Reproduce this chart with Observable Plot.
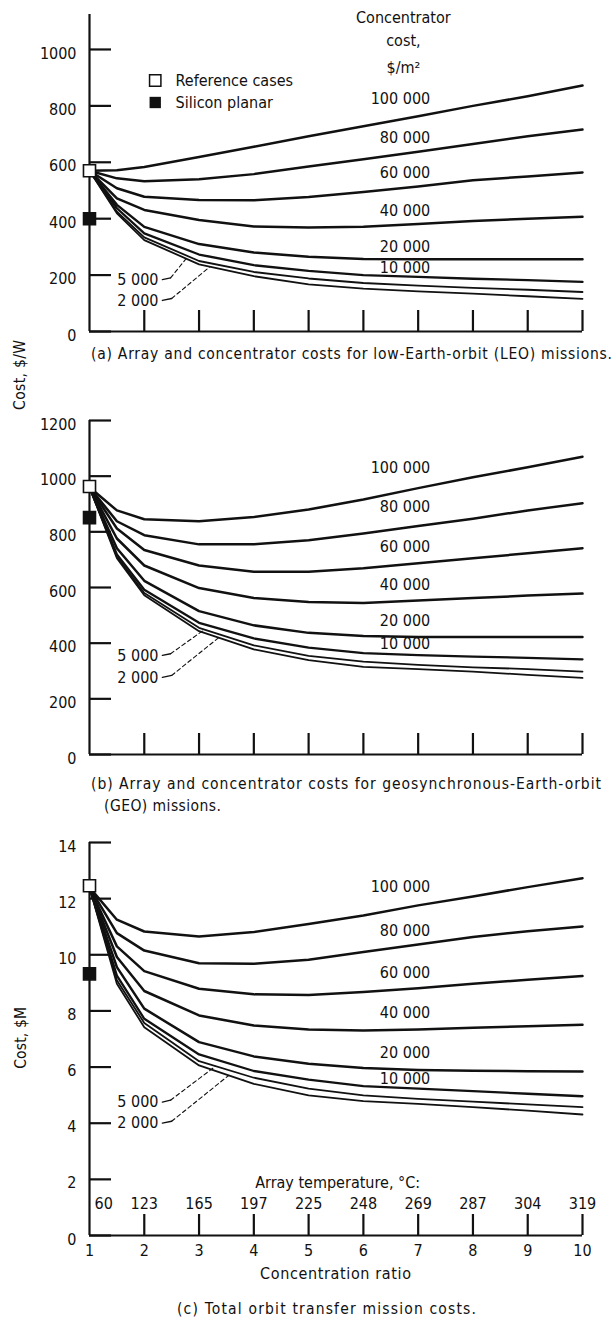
<!DOCTYPE html>
<html><head><meta charset="utf-8">
<script src="https://cdn.jsdelivr.net/npm/d3@7"></script>
<script src="https://cdn.jsdelivr.net/npm/@observablehq/plot@0.6"></script>
<style>
body{margin:0;background:#fff;}
#root{position:relative;width:616px;height:1320px;overflow:hidden;background:#fff;color:#111;}
.p{position:absolute;left:0;}
.t{position:absolute;white-space:nowrap;line-height:1;}
</style></head><body><div id="root"></div>
<script>
// Concentration ratio (x) and concentrator cost series
const ratios = [1, 1.5, 2, 3, 4, 5, 6, 7, 8, 9, 10];
const seriesNames = ["100 000", "80 000", "60 000", "40 000", "20 000", "10 000", "5 000", "2 000"];
const xTickValues = [1, 2, 3, 4, 5, 6, 7, 8, 9, 10];
const arrayTemps = [60, 123, 165, 197, 225, 248, 269, 287, 304, 319];

// (a) LEO, $/W
const leo100000 = [570, 572, 583, 619, 655, 692, 728, 763, 800, 834, 872];
const leo80000  = [570, 543, 533, 540, 558, 585, 611, 637, 665, 692, 716];
const leo60000  = [570, 508, 478, 466, 465, 477, 495, 514, 536, 550, 564];
const leo40000  = [570, 472, 431, 395, 372, 369, 371, 381, 392, 400, 407];
const leo20000  = [570, 449, 371, 310, 280, 265, 257, 256, 256, 256, 256];
const leo10000  = [570, 437, 348, 273, 235, 215, 200, 194, 187, 182, 176];
const leo5000   = [570, 425, 334, 250, 211, 188, 172, 163, 155, 148, 140];
const leo2000   = [570, 419, 324, 238, 196, 167, 152, 142, 134, 125, 116];
const leoRef = 570, leoSilicon = 400;
const leoTicks = [0, 200, 400, 600, 800, 1000];

// (b) GEO, $/W
const geo100000 = [960, 877, 845, 838, 853, 880, 916, 957, 996, 1032, 1070];
const geo80000  = [960, 838, 788, 755, 755, 770, 794, 821, 847, 877, 903];
const geo60000  = [960, 812, 735, 679, 657, 657, 669, 687, 705, 723, 741];
const geo40000  = [960, 776, 679, 598, 562, 548, 544, 553, 562, 571, 578];
const geo20000  = [960, 741, 624, 515, 464, 437, 426, 422, 422, 422, 422];
const geo10000  = [960, 719, 592, 473, 417, 384, 364, 357, 352, 347, 342];
const geo5000   = [960, 711, 580, 455, 392, 354, 334, 322, 313, 307, 298];
const geo2000   = [960, 705, 572, 443, 378, 339, 315, 307, 298, 286, 275];
const geoRef = 963, geoSilicon = 851;
const geoTicks = [0, 200, 400, 600, 800, 1000, 1200];

// (c) Total orbit transfer mission cost, $M
const tot100000 = [12.4, 11.25, 10.83, 10.65, 10.81, 11.10, 11.40, 11.76, 12.08, 12.41, 12.73];
const tot80000  = [12.4, 10.77, 10.15, 9.70, 9.68, 9.82, 10.10, 10.37, 10.63, 10.84, 11.01];
const tot60000  = [12.4, 10.30, 9.42, 8.79, 8.59, 8.57, 8.67, 8.81, 8.97, 9.11, 9.24];
const tot40000  = [12.4, 9.92, 8.71, 7.84, 7.48, 7.34, 7.30, 7.34, 7.40, 7.45, 7.51];
const tot20000  = [12.4, 9.56, 8.08, 6.89, 6.38, 6.12, 5.97, 5.90, 5.87, 5.85, 5.84];
const tot10000  = [12.4, 9.26, 7.72, 6.45, 5.86, 5.55, 5.32, 5.23, 5.14, 5.05, 4.96];
const tot5000   = [12.4, 9.09, 7.57, 6.21, 5.62, 5.23, 4.99, 4.87, 4.77, 4.67, 4.57];
const tot2000   = [12.4, 8.97, 7.42, 6.06, 5.40, 4.99, 4.79, 4.69, 4.57, 4.45, 4.31];
const totRef = 12.46, totSilicon = 9.32;
const totTicks = [0, 2, 4, 6, 8, 10, 12, 14];

// annotation anchors (data units)
const labelX = 7.22;
const leoLabelY = [826, 688, 564, 426, 301, 227];
const geoLabelY = [1031, 888, 747, 611, 481, 399];
const totLabelY = [12.43, 10.86, 9.36, 7.93, 6.50, 5.57];

const root = document.getElementById("root");

// ---- pick a condensed font that is installed ----
function textWidth(family, stretch) {
  const s = document.createElement("span");
  s.textContent = "Concentrator cost 1000 missions";
  s.style.cssText = "position:absolute;visibility:hidden;font-size:20px;white-space:nowrap;";
  s.style.fontFamily = family; s.style.fontStretch = stretch;
  document.body.appendChild(s);
  const w = s.getBoundingClientRect().width; s.remove(); return w;
}
let FONT, STRETCH, FS;
if (Math.abs(textWidth("'Liberation Sans Narrow', monospace", "normal") - textWidth("monospace", "normal")) > 1) {
  FONT = "'Liberation Sans Narrow', sans-serif"; STRETCH = "normal"; FS = 17.5;
} else if (textWidth("'DejaVu Sans'", "condensed") < 0.95 * textWidth("'DejaVu Sans'", "normal")) {
  FONT = "'DejaVu Sans', sans-serif"; STRETCH = "condensed"; FS = 16;
} else {
  FONT = "'Liberation Sans', Arial, sans-serif"; STRETCH = "normal"; FS = 16;
}
root.style.fontFamily = FONT; root.style.fontStretch = STRETCH;

const widths = [2.5, 2.5, 2.5, 2.5, 2.5, 2.3, 1.8, 1.8];

function tidy(series) {
  return series.flatMap((vals, i) => vals.map((v, j) => ({x: ratios[j], y: v, s: seriesNames[i], w: widths[i]})));
}

function leader(label, lx, ly, solidEnd, end) {
  return [
    Plot.text([label], {x: lx, y: ly, text: d => d, textAnchor: "end", fontSize: FS}),
    Plot.line([[lx + 0.07, ly], solidEnd], {strokeWidth: 1.3}),
    Plot.line([solidEnd, end], {strokeWidth: 1.1, strokeDasharray: "4,3"})
  ];
}

function panel({series, ymax, ticks, height, mt, mb, ref, silicon, labelY, lead5, lead2, xLabels, extra = []}) {
  const data = tidy(series);
  return Plot.plot({
    width: 616, height, marginLeft: 89, marginRight: 34, marginTop: mt, marginBottom: mb,
    style: {fontFamily: FONT, fontStretch: STRETCH, fontSize: FS + "px", color: "#111", background: "transparent", overflow: "visible"},
    x: {domain: [1, 10], axis: null},
    y: {domain: [0, ymax], axis: null},
    marks: [
      Plot.axisY({ticks, tickSize: -22, strokeWidth: 2.2, tickFormat: () => "", label: null}),
      Plot.axisY({ticks, tickSize: 0, tickPadding: 13, dy: 4, fontSize: FS, tickFormat: d => String(d), label: null}),
      Plot.axisX({ticks: xTickValues.slice(1), tickSize: -21, strokeWidth: 2.2, tickFormat: () => "", label: null}),
      xLabels ? Plot.axisX({ticks: xTickValues, tickSize: 0, tickPadding: 9, fontSize: FS, tickFormat: d => String(d), label: null}) : null,
      Plot.ruleX([1], {y1: 0, y2: ymax, strokeWidth: 2.2}),
      Plot.ruleY([0], {strokeWidth: 2.2}),
      Plot.line(data, {x: "x", y: "y", z: "s", strokeWidth: "w", strokeLinejoin: "round"}),
      Plot.text(seriesNames.slice(0, 6), {x: labelX, y: (d, i) => labelY[i], text: d => d, textAnchor: "end", fontSize: FS}),
      ...leader("5 000", lead5[0], lead5[1], lead5[2], lead5[3]),
      ...leader("2 000", lead2[0], lead2[1], lead2[2], lead2[3]),
      Plot.dot([ref], {x: 1, y: d => d, symbol: "square", r: 6.8, stroke: "#111", fill: "white", strokeWidth: 1.6}),
      Plot.dot([silicon], {x: 1, y: d => d, symbol: "square", r: 6.8, fill: "#111", stroke: "#111"}),
      ...extra
    ]
  });
}

function put(svg, top) {
  const d = document.createElement("div");
  d.className = "p"; d.style.top = top + "px";
  d.appendChild(svg); root.appendChild(d);
}

// (a)
put(panel({
  series: [leo100000, leo80000, leo60000, leo40000, leo20000, leo10000, leo5000, leo2000],
  ymax: 1124, ticks: leoTicks, height: 345, mt: 14, mb: 14,
  ref: leoRef, silicon: leoSilicon, labelY: leoLabelY,
  lead5: [2.26, 184, [2.48, 190], [2.8, 267]],
  lead2: [2.26, 110, [2.5, 117], [3.2, 230]],
  extra: [
    Plot.text(["Concentrator", "cost,", "$/m²"], {x: 6.73, y: (d, i) => [1113, 1032, 935][i], text: d => d, fontSize: FS}),
    Plot.dot([890], {x: 2.2, y: d => d, symbol: "square", r: 6.4, stroke: "#111", fill: "white", strokeWidth: 1.5}),
    Plot.dot([812], {x: 2.2, y: d => d, symbol: "square", r: 6.4, fill: "#111"}),
    Plot.text(["Reference cases", "Silicon planar"], {x: 2.57, y: (d, i) => [890, 812][i], text: d => d, textAnchor: "start", fontSize: FS})
  ]
}), 0);

// (b)
put(panel({
  series: [geo100000, geo80000, geo60000, geo40000, geo20000, geo10000, geo5000, geo2000],
  ymax: 1200, ticks: geoTicks, height: 370, mt: 20, mb: 16,
  ref: geoRef, silicon: geoSilicon, labelY: geoLabelY,
  lead5: [2.26, 356, [2.48, 362], [3.1, 449]],
  lead2: [2.26, 277, [2.5, 284], [3.36, 420]]
}), 400);

// (c)
put(panel({
  series: [tot100000, tot80000, tot60000, tot40000, tot20000, tot10000, tot5000, tot2000],
  ymax: 14, ticks: totTicks, height: 440, mt: 22, mb: 25,
  ref: totRef, silicon: totSilicon, labelY: totLabelY, xLabels: true,
  lead5: [2.26, 4.75, [2.48, 4.82], [3.3, 6.03]],
  lead2: [2.26, 4.0, [2.5, 4.07], [3.54, 5.70]],
  extra: [
    Plot.text(arrayTemps, {x: (d, i) => xTickValues[i] + (i === 0 ? 0.26 : 0), y: 1.14, text: d => String(d), fontSize: FS}),
    Plot.text(["Array temperature, °C:"], {x: 5.53, y: 1.89, text: d => d, fontSize: FS})
  ]
}), 820);

// HTML text: captions and axis titles
function addText(str, {left, right, cx, cy, size = FS - 0.5, rotate = false, len}) {
  const d = document.createElement("div");
  d.className = "t"; d.textContent = str; d.style.fontSize = size + "px";
  root.appendChild(d);
  const nat = d.getBoundingClientRect().width;
  const target = len ?? (right - left);
  if (target) d.style.letterSpacing = ((target - nat) / (str.length - 1)) + "px";
  const r = d.getBoundingClientRect();
  const w = r.width, h = r.height;
  if (rotate) {
    d.style.left = (cx - w / 2) + "px";
    d.style.top = (cy - h / 2) + "px";
    d.style.transform = "rotate(-90deg)";
  } else {
    d.style.left = (left ?? (cx - w / 2)) + "px";
    d.style.top = (cy - h / 2) + "px";
  }
}
addText("(a) Array and concentrator costs for low-Earth-orbit (LEO) missions.", {left: 91, right: 612, cy: 355});
addText("(b) Array and concentrator costs for geosynchronous-Earth-orbit", {left: 91, right: 601, cy: 785});
addText("(GEO) missions.", {left: 104, right: 221, cy: 807});
addText("(c) Total orbit transfer mission costs.", {left: 177, right: 476, cy: 1310});
addText("Concentration ratio", {left: 260, right: 411, cy: 1274, size: FS});
addText("Cost, $/W", {cx: 21, cy: 375, rotate: true, len: 70});
addText("Cost, $M", {cx: 22, cy: 1038, rotate: true, len: 62});
</script></body></html>
